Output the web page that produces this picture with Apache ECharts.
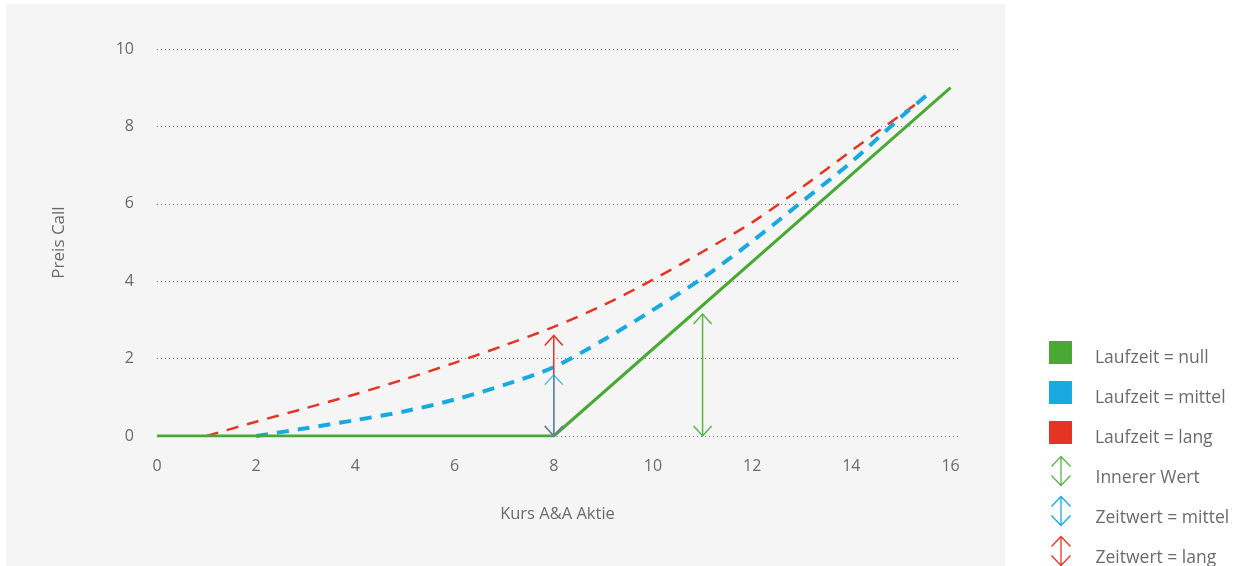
<!DOCTYPE html>
<html>
<head>
<meta charset="utf-8">
<script src="https://cdn.jsdelivr.net/npm/echarts@6/dist/echarts.min.js"></script>
<style>
html,body{margin:0;padding:0;background:#fff;}
#chart{width:1237px;height:566px;}
</style>
</head>
<body>
<div id="chart"></div>
<script>
// ---- data ----
const xTicks = [0, 2, 4, 6, 8, 10, 12, 14, 16];
const yTicks = [0, 2, 4, 6, 8, 10];
const nullSeries = [[0, 0], [8, 0], [16, 9]];
const mittelSeries = [[2, 0], [3, 0.2], [4, 0.41], [5, 0.64], [6, 0.94], [7, 1.32], [8, 1.78], [9, 2.48], [10, 3.26], [11, 4.08], [12, 5.03], [13, 6.05], [14, 7.08], [15, 8.24], [15.55, 8.84]];
const langSeries = [[1, 0], [2, 0.37], [3, 0.72], [4, 1.08], [5, 1.47], [6, 1.89], [7, 2.34], [8, 2.82], [9, 3.38], [10, 4.04], [11, 4.76], [12, 5.52], [13, 6.42], [14, 7.37], [15, 8.3], [15.35, 8.62]];
// arrows: [x, from, to]
const innererWert = [[11, 0, 3.15]];
const zeitwertMittel = [[8, 0, 1.58]];
const zeitwertLang = [[8, 0, 2.6]];
const names = ['Laufzeit = null', 'Laufzeit = mittel', 'Laufzeit = lang', 'Innerer Wert', 'Zeitwert = mittel', 'Zeitwert = lang'];

const GREEN = '#4aa935', BLUE = '#19a9e1', RED = '#e53424', GREEN_A = '#5bb34a';
const FONT = '"Open Sans", sans-serif';
const TXT = '#6b6b6b';

// icons carry an invisible tail below so the label sits a little lower than the glyph
const squareIcon = 'path://M0,0L10,0L10,10L0,10ZM0,14.8L0.001,14.8Z';
const arrowIcon = 'path://M0,10L9.5,0L19,10M9.5,0L9.5,29M0,19L9.5,29L19,19M9.5,43L9.5,43.001';

function arrowRender(color, opacity) {
  return function (params, api) {
    const x = api.value(0);
    const p0 = api.coord([x, api.value(1)]);
    const p1 = api.coord([x, api.value(2)]);
    const hw = 9, hh = 10;
    const style = { stroke: color, lineWidth: 1.5, fill: null, opacity: opacity };
    return {
      type: 'group',
      children: [
        { type: 'line', shape: { x1: p0[0], y1: p0[1], x2: p1[0], y2: p1[1] }, style: style },
        { type: 'polyline', shape: { points: [[p1[0] - hw, p1[1] + hh], [p1[0], p1[1]], [p1[0] + hw, p1[1] + hh]] }, style: style },
        { type: 'polyline', shape: { points: [[p0[0] - hw, p0[1] - hh], [p0[0], p0[1]], [p0[0] + hw, p0[1] - hh]] }, style: style }
      ]
    };
  };
}

const legendItems = [
  { name: names[0], icon: squareIcon, itemStyle: { color: GREEN, borderWidth: 0 } },
  { name: names[1], icon: squareIcon, itemStyle: { color: BLUE, borderWidth: 0 } },
  { name: names[2], icon: squareIcon, itemStyle: { color: RED, borderWidth: 0 } },
  { name: names[3], icon: arrowIcon, itemStyle: { color: 'none', borderColor: GREEN_A, borderWidth: 1.3 } },
  { name: names[4], icon: arrowIcon, itemStyle: { color: 'none', borderColor: BLUE, borderWidth: 1.3 } },
  { name: names[5], icon: arrowIcon, itemStyle: { color: 'none', borderColor: RED, borderWidth: 1.3 } }
];
const legendTops = [341, 381, 421, 454, 494, 534];

const legends = legendItems.map(function (item, i) {
  const isArrow = i >= 3;
  return {
    orient: 'vertical',
    left: 1049,
    top: legendTops[i],
    padding: 0,
    itemWidth: isArrow ? 19 : 23,
    itemHeight: isArrow ? 43 : 34,
    selectedMode: false,
    textStyle: { fontFamily: FONT, fontSize: 17.5, color: TXT, padding: [0, 0, 0, isArrow ? 20 : 18] },
    data: [item]
  };
});

const chart = echarts.init(document.getElementById('chart'));
chart.setOption({
  backgroundColor: '#ffffff',
  animation: false,
  graphic: [{
    type: 'rect', z: -10, silent: true,
    shape: { x: 6, y: 4, width: 999, height: 562 },
    style: { fill: '#f5f5f5' }
  }],
  grid: { left: 157, top: 49, right: 279, bottom: 130 },
  legend: legends,
  xAxis: {
    type: 'value',
    min: 0,
    max: 16.15,
    interval: 2,
    name: 'Kurs A&A Aktie',
    nameLocation: 'middle',
    nameGap: 70,
    nameTextStyle: { fontFamily: FONT, fontSize: 16.5, color: TXT },
    axisLine: { show: false },
    axisTick: { show: false },
    splitLine: { show: false },
    axisLabel: {
      margin: 22,
      fontFamily: FONT, fontSize: 16, color: TXT,
      showMaxLabel: false,
      formatter: function (v) { return xTicks.indexOf(v) >= 0 ? String(v) : ''; }
    }
  },
  yAxis: {
    type: 'value',
    min: 0,
    max: 10,
    interval: 2,
    name: 'Preis Call',
    nameLocation: 'middle',
    nameGap: 89,
    nameTextStyle: { fontFamily: FONT, fontSize: 17, color: TXT },
    axisLine: { show: false },
    axisTick: { show: false },
    splitLine: { show: true, lineStyle: { color: '#7a7a7a', width: 1.2, type: [1, 3] } },
    axisLabel: {
      margin: 23,
      fontFamily: FONT, fontSize: 16, color: TXT,
      formatter: function (v) { return yTicks.indexOf(v) >= 0 ? String(v) : ''; }
    }
  },
  series: [
    {
      name: names[2], type: 'line', data: langSeries, smooth: 0.3, showSymbol: false, symbol: 'none', z: 3,
      itemStyle: { color: RED },
      lineStyle: { color: RED, width: 2.5, type: [12, 9] }
    },
    {
      name: names[1], type: 'line', data: mittelSeries, smooth: 0.3, showSymbol: false, symbol: 'none', z: 4,
      itemStyle: { color: BLUE },
      lineStyle: { color: BLUE, width: 4, type: [12, 9] }
    },
    {
      name: names[0], type: 'line', data: nullSeries, showSymbol: false, symbol: 'none', z: 5,
      itemStyle: { color: GREEN },
      lineStyle: { color: GREEN, width: 3 }
    },
    {
      name: names[3], type: 'custom', data: innererWert, z: 6,
      itemStyle: { color: GREEN_A },
      renderItem: arrowRender(GREEN_A, 1)
    },
    {
      name: names[5], type: 'custom', data: zeitwertLang, z: 6,
      itemStyle: { color: RED },
      renderItem: arrowRender(RED, 1)
    },
    {
      name: names[4], type: 'custom', data: zeitwertMittel, z: 7,
      itemStyle: { color: BLUE },
      renderItem: arrowRender(BLUE, 0.72)
    }
  ]
});
</script>
</body>
</html>
